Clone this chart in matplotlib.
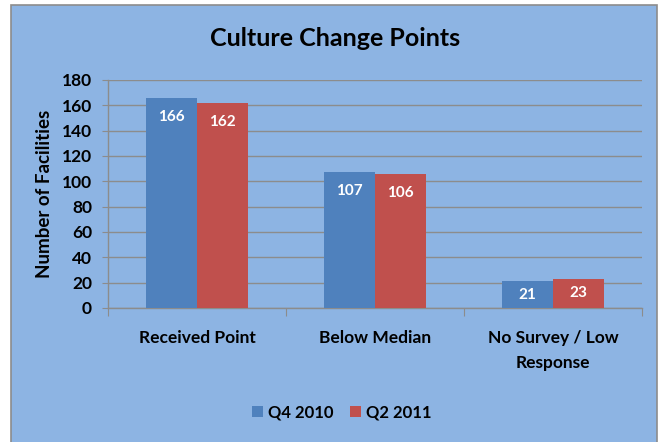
import numpy as np
import matplotlib
matplotlib.use('Agg')
import matplotlib.pyplot as plt
from matplotlib.patches import Rectangle

categories = ['Received Point', 'Below Median', 'No Survey / Low\nResponse']
q4_2010 = [166, 107, 21]
q2_2011 = [162, 106, 23]
series_names = ['Q4 2010', 'Q2 2011']

plt.rcParams['font.family'] = ['Lato', 'DejaVu Sans']

fig = plt.figure(figsize=(6.64, 4.42), dpi=100)
fig.patch.set_facecolor('white')

# chart area background with border
bg = Rectangle((11 / 664, -0.01), 646 / 664, 1 - 5 / 442 + 0.01,
               transform=fig.transFigure, facecolor='#8DB4E3',
               edgecolor='#8C8C8C', linewidth=1.2, zorder=-5)
fig.patches.append(bg)

ax = fig.add_axes([108 / 664, 1 - 308 / 442, 534 / 664, 228 / 442])
ax.set_facecolor('none')

x = np.arange(len(categories))
w = 0.287
b1 = ax.bar(x - w / 2, q4_2010, w, color='#4F81BD', label=series_names[0], zorder=3)
b2 = ax.bar(x + w / 2, q2_2011, w, color='#C0504D', label=series_names[1], zorder=3)

# labels sit near the top of the bar, or in the middle when the bar is short
for bars in (b1, b2):
    for r in bars:
        h = r.get_height()
        ypos = max(h - 15, h / 2)
        ax.text(r.get_x() + r.get_width() / 2, ypos, str(int(h)),
                ha='center', va='center', color='white',
                fontsize=11, fontweight='bold', zorder=4)

ax.set_ylim(0, 180)
ax.set_yticks(range(0, 181, 20))
ax.set_xlim(-0.5, len(categories) - 0.5)
ax.yaxis.grid(True, color='#8C8C8C', linewidth=1, zorder=1)
ax.set_axisbelow(True)

for s in ['top', 'right']:
    ax.spines[s].set_visible(False)
for s in ['left', 'bottom']:
    ax.spines[s].set_color('#8C8C8C')
    ax.spines[s].set_linewidth(1)

ax.tick_params(axis='y', length=4.5, color='#8C8C8C', labelsize=12.5, pad=7)
for t in ax.get_yticklabels():
    t.set_fontweight('bold')

# category labels and boundary ticks
ax.set_xticks(np.arange(-0.5, len(categories), 1.0))
ax.set_xticklabels([])
ax.tick_params(axis='x', length=6, color='#8C8C8C')
for i, c in enumerate(categories):
    ax.text(i, -17, c, ha='center', va='top', fontsize=12.5, fontweight='bold',
            linespacing=1.75, transform=ax.transData)

ax.set_ylabel('Number of Facilities', fontsize=13.5, fontweight='bold', labelpad=6)

fig.text(335 / 664, 1 - 38 / 442, 'Culture Change Points', ha='center', va='center',
         fontsize=18, fontweight='bold')

fig.legend(handles=[b1, b2], loc='center', bbox_to_anchor=(342 / 664, 1 - 412 / 442),
           ncol=2, frameon=False, handlelength=0.65, handleheight=0.65,
           handletextpad=0.3, columnspacing=1.0, prop={'weight': 'bold', 'size': 12})

fig.savefig('out.png', dpi=100, facecolor=fig.get_facecolor())
